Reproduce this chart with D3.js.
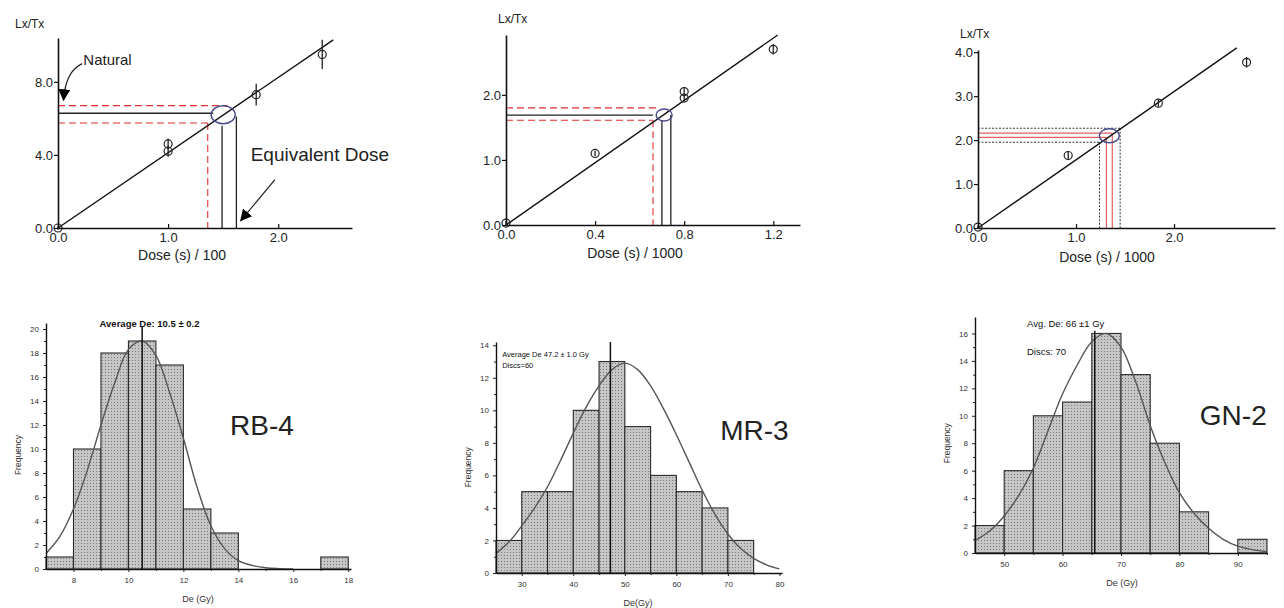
<!DOCTYPE html>
<html>
<head>
<meta charset="utf-8">
<script src="https://cdn.jsdelivr.net/npm/d3@7"></script>
<style>
  body { margin: 0; background: #fff; }
  svg { font-family: "Liberation Sans", Arial, sans-serif; }
</style>
</head>
<body>
<div id="chart"></div>
<script>
// ---- growth curves, Lx/Tx against dose ----
let rbDose = [0, 1.0, 1.0, 1.8, 2.4];
let rbRatio = [0, 4.2, 4.6, 7.3, 9.5];
let rbErr = [0.1, 0.3, 0.3, 0.6, 0.8];
let rbFit = [[0, 0], [2.5, 10.3]];
let rbNatural = [[6.7, 1.54], [6.28, 1.41], [5.75, 1.36]];   // [Lx/Tx, dose where line stops]
let rbDe = [[1.36, 5.75], [1.49, 5.6], [1.62, 6.1]];        // [dose, Lx/Tx where line starts]
let rbCross = [1.5, 6.2];

let mrDose = [0, 0.4, 0.8, 0.8, 1.2];
let mrRatio = [0.03, 1.1, 1.95, 2.05, 2.7];
let mrErr = [0.03, 0.04, 0.05, 0.05, 0.08];
let mrFit = [[0, 0], [1.22, 2.92]];
let mrNatural = [[1.8, 0.69], [1.69, 0.66], [1.61, 0.66]];
let mrDe = [[0.66, 1.61], [0.70, 1.61], [0.74, 1.69]];
let mrCross = [0.71, 1.69];

let gnDose = [0, 0.92, 1.84, 2.74];
let gnRatio = [0.02, 1.65, 2.84, 3.77];
let gnErr = [0.03, 0.1, 0.08, 0.12];
let gnFit = [[0, 0], [2.64, 4.1]];
let gnNatural = [[2.27, 1.45], [2.16, 1.37], [2.06, 1.31], [1.95, 1.24]];
let gnDe = [[1.24, 1.95], [1.31, 2.06], [1.37, 2.16], [1.45, 2.27]];
let gnCross = [1.34, 2.1];

// ---- De histograms ----
let rbBins = [7, 8, 9, 10, 11, 12, 13, 14, 15, 16, 17];
let rbCounts = [1, 10, 18, 19, 17, 5, 3, 0, 0, 0, 1];
let rbCurve = [[7, 1.3], [7.5, 2.7], [8, 5], [8.5, 8.2], [9, 12], [9.5, 15.5], [10, 18.3], [10.5, 19],
  [11, 17.8], [11.5, 14.7], [12, 10.9], [12.5, 6.8], [13, 3.6], [13.5, 1.7], [14, 0.7], [14.5, 0.3],
  [15, 0.1], [15.5, 0.03], [16, 0]];
let rbMean = 10.5;

let mrBins = [25, 30, 35, 40, 45, 50, 55, 60, 65, 70];
let mrCounts = [2, 5, 5, 10, 13, 9, 6, 5, 4, 2];
let mrCurve = [[25, 1.2], [27.5, 1.9], [30, 2.9], [32.5, 4.0], [35, 5.3], [37.5, 6.9], [40, 8.6],
  [42.5, 10.2], [45, 11.5], [47.5, 12.5], [50, 12.9], [52.5, 12.5], [55, 11.5], [57.5, 10.1],
  [60, 8.5], [62.5, 6.8], [65, 5.1], [67.5, 3.6], [70, 2.4], [72.5, 1.5], [75, 0.9], [77.5, 0.5], [80, 0.25]];
let mrMean = 47.2;

let gnBins = [45, 50, 55, 60, 65, 70, 75, 80, 85, 90];
let gnCounts = [2, 6, 10, 11, 16, 13, 8, 3, 0, 1];
let gnCurve = [[45, 0.9], [47.5, 1.6], [50, 2.7], [52.5, 4.2], [55, 6.2], [57.5, 8.9], [60, 11.6],
  [62.5, 13.7], [65, 15.4], [67.5, 16], [70, 15], [72.5, 12.5], [75, 9.3], [77.5, 6.6], [80, 4.4],
  [82.5, 2.9], [85, 1.8], [87.5, 1.0], [90, 0.5], [92.5, 0.25], [95, 0.1]];
let gnMean = 65.5;

let svg = d3.select("#chart")
  .append("svg")
  .attr("width", 1284)
  .attr("height", 608);

let pat = svg.append("defs")
  .append("pattern")
  .attr("id", "stipple")
  .attr("width", 3)
  .attr("height", 3)
  .attr("patternUnits", "userSpaceOnUse");
pat.append("rect").attr("width", 3).attr("height", 3).attr("fill", "#c6c6c6");
pat.append("rect").attr("width", 1).attr("height", 1).attr("fill", "#7a7a7a");

svg.select("defs").append("marker")
  .attr("id", "head")
  .attr("viewBox", "0 0 10 10")
  .attr("refX", 9).attr("refY", 5)
  .attr("markerWidth", 12).attr("markerHeight", 12)
  .attr("markerUnits", "userSpaceOnUse")
  .attr("orient", "auto")
  .append("path")
  .attr("d", "M0,0 L10,5 L0,10 Z")
  .attr("fill", "#000");

let lineStyles = {
  solid: { stroke: "#222", dash: null, width: 1.3 },
  red: { stroke: "#e03030", dash: "7,4", width: 1.1 },
  redSolid: { stroke: "#e06060", dash: null, width: 1.2 },
  dotted: { stroke: "#333", dash: "2,1.5", width: 1 }
};

function growthPanel(c) {
  let x = d3.scaleLinear().domain(c.xDomain).range(c.xRange);
  let y = d3.scaleLinear().domain(c.yDomain).range(c.yRange);
  let g = svg.append("g");

  // natural signal lines
  c.natural.forEach(function(d, i) {
    let s = lineStyles[c.hStyles[i]];
    g.append("line")
      .attr("x1", x(0)).attr("x2", x(d[1]))
      .attr("y1", y(d[0])).attr("y2", y(d[0]))
      .attr("stroke", s.stroke).attr("stroke-width", s.width)
      .attr("stroke-dasharray", s.dash);
  });
  // equivalent dose lines
  c.de.forEach(function(d, i) {
    let s = lineStyles[c.vStyles[i]];
    g.append("line")
      .attr("x1", x(d[0])).attr("x2", x(d[0]))
      .attr("y1", y(d[1])).attr("y2", y(0))
      .attr("stroke", s.stroke).attr("stroke-width", s.width)
      .attr("stroke-dasharray", s.dash);
  });

  // fitted line
  g.append("path")
    .attr("d", d3.line().x(function(d) { return x(d[0]); }).y(function(d) { return y(d[1]); })(c.fit))
    .attr("fill", "none")
    .attr("stroke", "#111")
    .attr("stroke-width", 1.4);

  g.append("ellipse")
    .attr("cx", x(c.cross[0])).attr("cy", y(c.cross[1]))
    .attr("rx", c.rx).attr("ry", c.ry)
    .attr("fill", "none")
    .attr("stroke", "#4a4a8c")
    .attr("stroke-width", 1.4);

  // points with error bars
  let pts = d3.range(c.dose.length);
  g.selectAll(".err")
    .data(pts)
    .enter()
    .append("line")
    .attr("x1", function(i) { return x(c.dose[i]); })
    .attr("x2", function(i) { return x(c.dose[i]); })
    .attr("y1", function(i) { return y(c.ratio[i] - c.err[i]); })
    .attr("y2", function(i) { return y(c.ratio[i] + c.err[i]); })
    .attr("stroke", "#222")
    .attr("stroke-width", 1.3);
  g.selectAll(".pt")
    .data(pts)
    .enter()
    .append("circle")
    .attr("cx", function(i) { return x(c.dose[i]); })
    .attr("cy", function(i) { return y(c.ratio[i]); })
    .attr("r", 4)
    .attr("fill", "none")
    .attr("stroke", "#222")
    .attr("stroke-width", 1.2);

  // axes
  let ya = g.append("g")
    .attr("transform", "translate(" + x(0) + ",0)")
    .call(d3.axisLeft(y).tickValues(c.yTicks).tickFormat(d3.format(".1f"))
      .tickSize(4).tickSizeOuter(0).tickPadding(1));
  let xa = g.append("g")
    .attr("transform", "translate(0," + y(0) + ")")
    .call(d3.axisBottom(x).tickValues(c.xTicks).tickFormat(d3.format(".1f"))
      .tickSizeInner(-4).tickSizeOuter(0).tickPadding(5));
  [ya, xa].forEach(function(a) {
    a.select(".domain").attr("stroke", "#111").attr("stroke-width", 1.6);
    a.selectAll(".tick line").attr("stroke", "#111").attr("stroke-width", 1.2);
    a.selectAll("text").attr("font-size", 13).attr("fill", "#222")
      .attr("font-family", "Liberation Sans, Arial, sans-serif");
  });

  g.append("text")
    .attr("x", x(0) + c.yLabelDx)
    .attr("y", y(c.yDomain[1]) + c.yLabelDy)
    .text("Lx/Tx")
    .attr("font-size", 12)
    .attr("fill", "#222");
  g.append("text")
    .attr("x", c.xLabelX)
    .attr("y", y(0) + c.xLabelDy)
    .attr("text-anchor", "middle")
    .text(c.xLabel)
    .attr("font-size", 14)
    .attr("fill", "#222");
  return { x: x, y: y, g: g };
}

function histPanel(c) {
  let x = d3.scaleLinear().domain(c.xDomain).range(c.xRange);
  let y = d3.scaleLinear().domain(c.yDomain).range(c.yRange);
  let g = svg.append("g");

  g.selectAll("rect")
    .data(d3.zip(c.bins, c.counts).filter(function(d) { return d[1] > 0; }))
    .enter()
    .append("rect")
    .attr("x", function(d) { return x(d[0]); })
    .attr("y", function(d) { return y(d[1]); })
    .attr("width", function(d) { return x(d[0] + c.binWidth) - x(d[0]); })
    .attr("height", function(d) { return y(0) - y(d[1]); })
    .attr("fill", "url(#stipple)")
    .attr("stroke", "#2a2a2a")
    .attr("stroke-width", 1.1);

  g.append("path")
    .attr("d", d3.line().curve(d3.curveCatmullRom)
      .x(function(d) { return x(d[0]); })
      .y(function(d) { return y(d[1]); })(c.curve))
    .attr("fill", "none")
    .attr("stroke", "#555")
    .attr("stroke-width", 1.4);

  g.append("line")
    .attr("x1", x(c.mean)).attr("x2", x(c.mean))
    .attr("y1", y(0)).attr("y2", y(c.meanTop))
    .attr("stroke", "#111")
    .attr("stroke-width", 1.5);

  let ya = g.append("g")
    .attr("transform", "translate(" + x(c.xDomain[0]) + ",0)")
    .call(d3.axisLeft(y).tickValues(c.yTicks).tickSize(3).tickSizeOuter(0).tickPadding(4));
  g.append("g")
    .attr("transform", "translate(" + x(c.xDomain[0]) + ",0)")
    .call(d3.axisLeft(y).tickValues(c.yMinor).tickSize(2).tickFormat("").tickSizeOuter(0))
    .select(".domain").remove();
  let xa = g.append("g")
    .attr("transform", "translate(0," + y(0) + ")")
    .call(d3.axisBottom(x).tickValues(c.xTicks).tickSize(3).tickSizeOuter(0).tickPadding(5));
  g.append("g")
    .attr("transform", "translate(0," + y(0) + ")")
    .call(d3.axisBottom(x).tickValues(c.xMinor).tickSize(2).tickFormat("").tickSizeOuter(0))
    .select(".domain").remove();
  g.selectAll(".tick line").attr("stroke", "#222");
  [ya, xa].forEach(function(a) {
    a.select(".domain").attr("stroke", "#111").attr("stroke-width", 1.4);
    a.selectAll("text").attr("font-size", 8).attr("fill", "#333")
      .attr("font-family", "Liberation Sans, Arial, sans-serif");
  });

  g.append("text")
    .attr("x", c.xLabelX)
    .attr("y", y(0) + 33)
    .attr("text-anchor", "middle")
    .text(c.xLabel)
    .attr("font-size", 9)
    .attr("fill", "#333");
  g.append("text")
    .attr("transform", "translate(" + (x(c.xDomain[0]) - 25) + "," + y(c.freqY) + ") rotate(-90)")
    .attr("text-anchor", "middle")
    .text("Frequency")
    .attr("font-size", 8.5)
    .attr("fill", "#333");

  c.notes.forEach(function(n) {
    g.append("text")
      .attr("x", x(n[0]))
      .attr("y", y(n[1]))
      .text(n[2])
      .attr("font-size", c.noteSize)
      .attr("font-weight", c.noteWeight)
      .attr("fill", "#111");
  });

  g.append("text")
    .attr("x", x(c.name[0]))
    .attr("y", y(c.name[1]))
    .text(c.name[2])
    .attr("font-size", 28)
    .attr("fill", "#222");
  return { x: x, y: y, g: g };
}

// ---- top row ----
let p1 = growthPanel({
  dose: rbDose, ratio: rbRatio, err: rbErr, fit: rbFit,
  natural: rbNatural, de: rbDe, cross: rbCross, rx: 12, ry: 9,
  hStyles: ["red", "solid", "red"], vStyles: ["red", "solid", "solid"],
  xDomain: [0, 2.67], xRange: [58, 352], yDomain: [0, 10.4], yRange: [228, 38],
  xTicks: [0, 1, 2], yTicks: [0, 4, 8],
  yLabelDx: -43, yLabelDy: -10, xLabel: "Dose (s) / 100", xLabelX: 182, xLabelDy: 32
});
let p2 = growthPanel({
  dose: mrDose, ratio: mrRatio, err: mrErr, fit: mrFit,
  natural: mrNatural, de: mrDe, cross: mrCross, rx: 8, ry: 6,
  hStyles: ["red", "solid", "red"], vStyles: ["red", "solid", "solid"],
  xDomain: [0, 1.32], xRange: [506, 800], yDomain: [0, 2.92], yRange: [225, 35],
  xTicks: [0, 0.4, 0.8, 1.2], yTicks: [0, 1, 2],
  yLabelDx: -8, yLabelDy: -12, xLabel: "Dose (s) / 1000", xLabelX: 635, xLabelDy: 33
});
let p3 = growthPanel({
  dose: gnDose, ratio: gnRatio, err: gnErr, fit: gnFit,
  natural: gnNatural, de: gnDe, cross: gnCross, rx: 10, ry: 7,
  hStyles: ["dotted", "redSolid", "redSolid", "dotted"],
  vStyles: ["dotted", "redSolid", "redSolid", "dotted"],
  xDomain: [0, 3.03], xRange: [978, 1275], yDomain: [0, 4.05], yRange: [228, 50],
  xTicks: [0, 1, 2], yTicks: [0, 1, 2, 3, 4],
  yLabelDx: -18, yLabelDy: -12, xLabel: "Dose (s) / 1000", xLabelX: 1107, xLabelDy: 34
});

// annotations on the first growth curve
p1.g.append("text")
  .attr("x", p1.x(0.23)).attr("y", p1.y(8.9))
  .text("Natural")
  .attr("font-size", 15)
  .attr("fill", "#222");
p1.g.append("path")
  .attr("d", "M" + p1.x(0.22) + "," + p1.y(9.0) +
    " Q" + p1.x(0.07) + "," + p1.y(8.6) + " " + p1.x(0.05) + "," + p1.y(7.0))
  .attr("fill", "none")
  .attr("stroke", "#222")
  .attr("stroke-width", 1.2)
  .attr("marker-end", "url(#head)");
p1.g.append("text")
  .attr("x", p1.x(1.75)).attr("y", p1.y(3.65))
  .text("Equivalent Dose")
  .attr("font-size", 19)
  .attr("fill", "#222");
p1.g.append("line")
  .attr("x1", p1.x(1.97)).attr("y1", p1.y(2.65))
  .attr("x2", p1.x(1.66)).attr("y2", p1.y(0.4))
  .attr("stroke", "#222")
  .attr("stroke-width", 1.2)
  .attr("marker-end", "url(#head)");

// ---- bottom row ----
histPanel({
  bins: rbBins, counts: rbCounts, binWidth: 1, curve: rbCurve, mean: rbMean, meanTop: 20.2,
  xDomain: [7, 18.1], xRange: [46, 351], yDomain: [0, 20.5], yRange: [569, 323],
  xTicks: d3.range(8, 19, 2), xMinor: d3.range(9, 18, 2),
  yTicks: d3.range(0, 21, 2), yMinor: d3.range(1, 20, 2),
  xLabel: "De (Gy)", xLabelX: 198, freqY: 9.5,
  notes: [[8.95, 20.2, "Average De: 10.5 ± 0.2"]], noteSize: 9.5, noteWeight: "bold",
  name: [13.7, 11.2, "RB-4"]
});
histPanel({
  bins: mrBins, counts: mrCounts, binWidth: 5, curve: mrCurve, mean: mrMean, meanTop: 14.2,
  xDomain: [25, 80.5], xRange: [496, 782], yDomain: [0, 14.2], yRange: [573, 342],
  xTicks: d3.range(30, 81, 10), xMinor: d3.range(35, 80, 10),
  yTicks: d3.range(0, 15, 2), yMinor: d3.range(1, 14, 2),
  xLabel: "De(Gy)", xLabelX: 638, freqY: 6.5,
  notes: [[26.2, 13.3, "Average De 47.2 ± 1.0 Gy"], [26.2, 12.6, "Discs=60"]],
  noteSize: 7.5, noteWeight: "normal",
  name: [68.5, 8.2, "MR-3"]
});
histPanel({
  bins: gnBins, counts: gnCounts, binWidth: 5, curve: gnCurve, mean: gnMean, meanTop: 16.2,
  xDomain: [45, 95], xRange: [975, 1267], yDomain: [0, 17.2], yRange: [553, 317],
  xTicks: d3.range(50, 91, 10), xMinor: d3.range(55, 96, 10),
  yTicks: d3.range(0, 17, 2), yMinor: d3.range(1, 17, 2),
  xLabel: "De (Gy)", xLabelX: 1122, freqY: 8,
  notes: [[53.9, 16.5, "Avg. De: 66 ±1 Gy"], [53.9, 14.4, "Discs: 70"]],
  noteSize: 9.5, noteWeight: "normal",
  name: [83.5, 9.3, "GN-2"]
});
</script>
</body>
</html>
